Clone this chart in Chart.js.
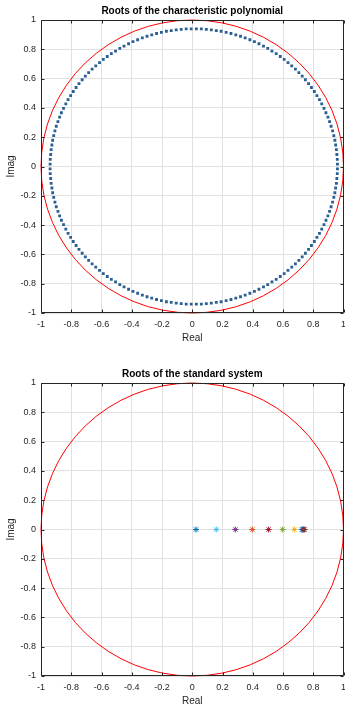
<!DOCTYPE html>
<html lang="en">
<head>
<meta charset="utf-8">
<title>Roots</title>
<script src="https://cdn.jsdelivr.net/npm/chart.js@4.4.1/dist/chart.umd.min.js"></script>
<style>
    html, body { margin: 0; padding: 0; background: #fff; }
    canvas { position: absolute; left: 0; }
    #charPolyChart { top: 0; }
    #standardChart { top: 363px; }
</style>
</head>
<body>
<canvas id="charPolyChart" width="345" height="344"></canvas>
<canvas id="standardChart" width="345" height="344"></canvas>

<script type="text/javascript">

    // axis ticks, same on both plots
    const tickValues = [-1, -0.8, -0.6, -0.4, -0.2, 0, 0.2, 0.4, 0.6, 0.8, 1];

    // unit circle drawn in red
    const unitRadius = 1;

    // roots of the characteristic polynomial, upper half plane
    const rootsRe = [
        0.960, 0.959, 0.956, 0.953, 0.948, 0.943, 0.936, 0.928, 0.918, 0.908,
        0.897, 0.884, 0.871, 0.856, 0.841, 0.824, 0.807, 0.788, 0.769, 0.748,
        0.727, 0.705, 0.682, 0.658, 0.633, 0.608, 0.582, 0.555, 0.527, 0.499,
        0.471, 0.441, 0.411, 0.381, 0.350, 0.319, 0.288, 0.256, 0.224, 0.191,
        0.159, 0.126, 0.093, 0.060, 0.027, -0.007, -0.040, -0.073, -0.106, -0.139,
        -0.171, -0.204, -0.236, -0.268, -0.299, -0.330, -0.361, -0.392, -0.421, -0.451,
        -0.479, -0.507, -0.535, -0.562, -0.588, -0.613, -0.638, -0.662, -0.685, -0.707,
        -0.728, -0.749, -0.768, -0.787, -0.804, -0.821, -0.836, -0.851, -0.865, -0.877,
        -0.888, -0.899, -0.908, -0.916, -0.923, -0.928, -0.933, -0.936, -0.939, -0.940
    ];
    const rootsIm = [
        0.016, 0.049, 0.082, 0.115, 0.147, 0.179, 0.211, 0.243, 0.275, 0.306,
        0.337, 0.367, 0.397, 0.427, 0.456, 0.484, 0.512, 0.539, 0.566, 0.592,
        0.617, 0.641, 0.665, 0.687, 0.709, 0.731, 0.751, 0.770, 0.788, 0.806,
        0.822, 0.838, 0.852, 0.865, 0.878, 0.889, 0.899, 0.908, 0.916, 0.923,
        0.928, 0.933, 0.936, 0.939, 0.940, 0.940, 0.939, 0.936, 0.933, 0.928,
        0.923, 0.916, 0.908, 0.899, 0.889, 0.878, 0.865, 0.852, 0.838, 0.822,
        0.806, 0.788, 0.770, 0.751, 0.731, 0.709, 0.687, 0.665, 0.641, 0.617,
        0.592, 0.566, 0.539, 0.512, 0.484, 0.456, 0.427, 0.397, 0.367, 0.337,
        0.306, 0.275, 0.243, 0.211, 0.179, 0.147, 0.115, 0.082, 0.049, 0.016
    ];

    // roots of the standard system (all real)
    const stdRe = [0.025, 0.159, 0.285, 0.397, 0.505, 0.598, 0.675, 0.722, 0.728, 0.736, 0.743];
    const stdIm = [0, 0, 0, 0, 0, 0, 0, 0, 0, 0, 0];
    const stdColors = ['#0072BD', '#4DBEEE', '#7E2F8E', '#D95319', '#A2142F', '#77AC30',
                       '#EDB120', '#4DBEEE', '#0072BD', '#A2142F', '#7a3b3b'];

    const fontFamily = "'Liberation Sans', Arial, Helvetica, sans-serif";
    const axisColor = '#262626';
    const gridColor = '#e1e1e1';

    // box with inward ticks + red unit circle
    const framePlugin = {
        id: 'frame',
        beforeDatasetsDraw(chart) {
            const ctx = chart.ctx;
            const xs = chart.scales.x;
            const ys = chart.scales.y;
            const cx = xs.getPixelForValue(0);
            const cy = ys.getPixelForValue(0);
            const rx = xs.getPixelForValue(unitRadius) - cx;
            const ry = cy - ys.getPixelForValue(unitRadius);
            ctx.save();
            ctx.strokeStyle = '#ff0000';
            ctx.lineWidth = 1;
            ctx.beginPath();
            ctx.ellipse(cx, cy, rx, ry, 0, 0, Math.PI * 2);
            ctx.stroke();
            ctx.restore();
        },
        afterDraw(chart) {
            const ctx = chart.ctx;
            const a = chart.chartArea;
            const xs = chart.scales.x;
            const ys = chart.scales.y;
            const l = Math.round(a.left) + 0.5, r = Math.round(a.right) - 0.5;
            const t = Math.round(a.top) + 0.5, b = Math.round(a.bottom) - 0.5;
            ctx.save();
            ctx.strokeStyle = axisColor;
            ctx.lineWidth = 1;
            ctx.beginPath();
            ctx.rect(l, t, r - l, b - t);
            tickValues.forEach(v => {
                const x = Math.round(xs.getPixelForValue(v)) + 0.5;
                ctx.moveTo(x, b); ctx.lineTo(x, b - 3);
                ctx.moveTo(x, t); ctx.lineTo(x, t + 3);
                const y = Math.round(ys.getPixelForValue(v)) + 0.5;
                ctx.moveTo(l, y); ctx.lineTo(l + 3, y);
                ctx.moveTo(r, y); ctx.lineTo(r - 3, y);
            });
            ctx.stroke();
            ctx.restore();
        }
    };

    function axisOptions(isX) {
        return {
            type: 'linear',
            min: -1,
            max: 1,
            afterBuildTicks: scale => {
                scale.ticks = tickValues.map(v => ({value: v}));
            },
            ticks: {
                font: {family: fontFamily, size: 9},
                color: axisColor,
                padding: isX ? 6 : 5,
                maxRotation: 0,
                autoSkip: false,
                callback: v => String(v)
            },
            grid: {color: gridColor, lineWidth: 1, drawTicks: false},
            border: {display: false},
            title: {
                display: true,
                text: isX ? 'Real' : 'Imag',
                font: {family: fontFamily, size: 10},
                color: axisColor,
                padding: isX ? {top: 0, bottom: 0} : {top: 5, bottom: 0}
            },
            afterFit: scale => {
                if (isX) {
                    scale.height = 31;
                    scale.paddingLeft = 0;
                    scale.paddingRight = 0;
                } else {
                    scale.width = 41;
                    scale.paddingTop = 0;
                    scale.paddingBottom = 0;
                }
            }
        };
    }

    function makeChart(canvasId, titleText, datasets) {
        return new Chart(document.getElementById(canvasId), {
            type: 'scatter',
            data: {datasets: datasets},
            options: {
                responsive: false,
                animation: false,
                devicePixelRatio: 1,
                layout: {autoPadding: false, padding: {left: 0, right: 1.5, top: 0, bottom: 0}},
                plugins: {
                    legend: {display: false},
                    tooltip: {enabled: false},
                    title: {
                        display: true,
                        text: titleText,
                        fullSize: false,
                        color: '#000000',
                        font: {family: fontFamily, size: 10, weight: 'bold'},
                        padding: {top: 5, bottom: 3}
                    }
                },
                scales: {x: axisOptions(true), y: axisOptions(false)}
            },
            plugins: [framePlugin]
        });
    }

    const upperRoots = rootsRe.map((re, i) => ({x: re, y: rootsIm[i]}));
    const lowerRoots = rootsRe.map((re, i) => ({x: re, y: -rootsIm[i]}));

    makeChart('charPolyChart', 'Roots of the characteristic polynomial', [
        {
            label: 'roots',
            data: upperRoots.concat(lowerRoots),
            pointStyle: 'rect',
            pointRadius: 2,
            borderWidth: 0,
            backgroundColor: '#2a5f93'
        }
    ]);

    makeChart('standardChart', 'Roots of the standard system', [
        {
            label: 'roots',
            data: stdRe.map((re, i) => ({x: re, y: stdIm[i]})),
            pointStyle: 'star',
            pointRadius: 3,
            borderWidth: 1,
            borderColor: stdColors,
            backgroundColor: stdColors
        }
    ]);

</script>
</body>
</html>
